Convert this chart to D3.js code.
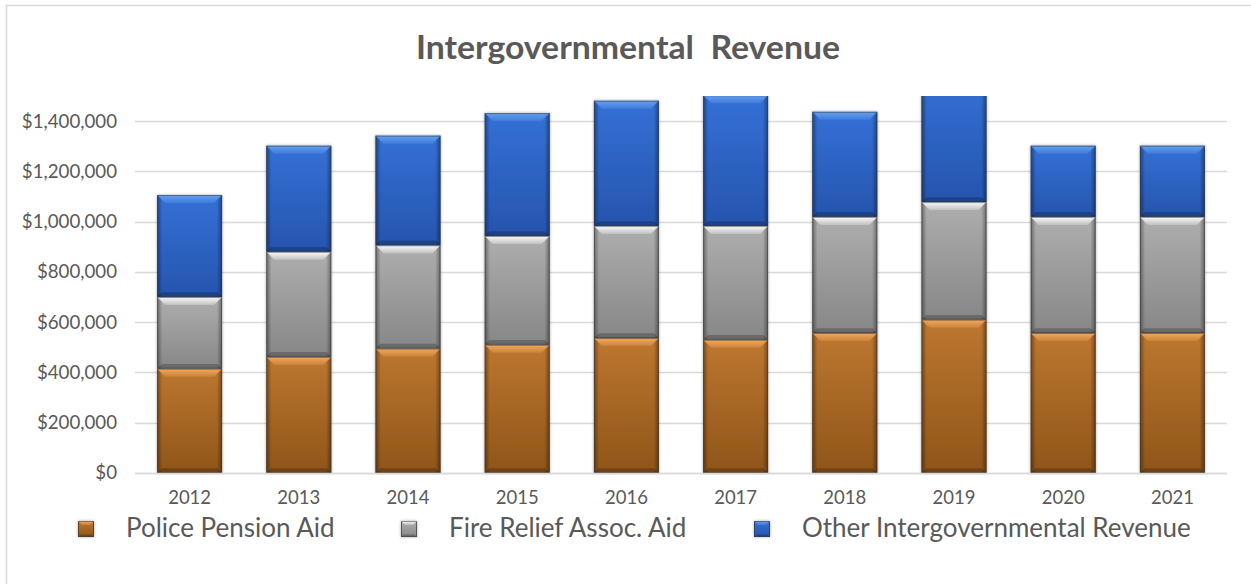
<!DOCTYPE html>
<html>
<head>
<meta charset="utf-8">
<script src="https://cdn.jsdelivr.net/npm/d3@7"></script>
<style>
  html, body { margin: 0; padding: 0; background: #fff; }
  svg { display: block; }
  text { font-family: Lato, "Open Sans", sans-serif; fill: #595959; }
</style>
</head>
<body>
<svg id="chart" width="1251" height="584"></svg>
<script>
// Intergovernmental revenue by year, stacked by source
const years = ["2012", "2013", "2014", "2015", "2016", "2017", "2018", "2019", "2020", "2021"];
const policePensionAid = [415000, 462000, 495000, 510000, 537000, 530000, 557000, 610000, 557000, 557000];
const fireReliefAid    = [285000, 418000, 411000, 433000, 446000, 453000, 462000, 468000, 462000, 462000];
const otherRevenue     = [406000, 422000, 436000, 489000, 498000, 520000, 418000, 510000, 283000, 283000];
const seriesNames = ["Police Pension Aid", "Fire Relief Assoc. Aid", "Other Intergovernmental Revenue"];
const yTickValues = [0, 200000, 400000, 600000, 800000, 1000000, 1200000, 1400000];
const yMax = 1500000;

const svg = d3.select("#chart");
const W = 1251, H = 584;
const plot = { left: 135, right: 1227, top: 96, bottom: 473 };

// colour sets for the bevelled bar look
const palettes = [
  { key: "orange", top: "#BD7730", bottom: "#8F5519", bevel: "#F7AC5E" },
  { key: "gray",   top: "#AEAEAE", bottom: "#878787", bevel: "#FFFFFF" },
  { key: "blue",   top: "#3470D6", bottom: "#2655AE", bevel: "#67A3F2" }
];

const defs = svg.append("defs");
palettes.forEach(p => {
  const v = defs.append("linearGradient").attr("id", "body-" + p.key)
    .attr("x1", 0).attr("y1", 0).attr("x2", 0).attr("y2", 1);
  v.append("stop").attr("offset", "0%").attr("stop-color", p.top);
  v.append("stop").attr("offset", "100%").attr("stop-color", p.bottom);
  const b = defs.append("linearGradient").attr("id", "bevel-" + p.key)
    .attr("x1", 0).attr("y1", 0).attr("x2", 0).attr("y2", 1);
  b.append("stop").attr("offset", "0%").attr("stop-color", p.bevel).attr("stop-opacity", 0.95);
  b.append("stop").attr("offset", "100%").attr("stop-color", p.bevel).attr("stop-opacity", 0.25);
});
const edge = defs.append("linearGradient").attr("id", "edge")
  .attr("x1", 0).attr("y1", 0).attr("x2", 1).attr("y2", 0);
[[0, 0.38], [0.08, 0], [0.92, 0], [1, 0.38]].forEach(([o, a]) =>
  edge.append("stop").attr("offset", o).attr("stop-color", "#000").attr("stop-opacity", a));

const shadow = defs.append("filter").attr("id", "shadow")
  .attr("x", "-20%").attr("y", "-20%").attr("width", "140%").attr("height", "140%");
shadow.append("feGaussianBlur").attr("in", "SourceAlpha").attr("stdDeviation", 1.6).attr("result", "blur");
shadow.append("feComponentTransfer").attr("in", "blur").attr("result", "soft")
  .append("feFuncA").attr("type", "linear").attr("slope", 0.35);
const merge = shadow.append("feMerge");
merge.append("feMergeNode").attr("in", "soft");
merge.append("feMergeNode").attr("in", "SourceGraphic");

defs.append("clipPath").attr("id", "plot-clip")
  .append("rect").attr("x", plot.left - 10).attr("y", plot.top)
  .attr("width", plot.right - plot.left + 20).attr("height", plot.bottom - plot.top + 2);

// chart frame
svg.append("rect").attr("x", 6.5).attr("y", 5.5).attr("width", W).attr("height", H)
  .attr("fill", "none").attr("stroke", "#d9d9d9").attr("stroke-width", 1.5);

// title
svg.append("text").attr("x", 628).attr("y", 59).attr("text-anchor", "middle")
  .attr("font-size", 32).attr("font-weight", "bold")
  .attr("textLength", 424).attr("lengthAdjust", "spacingAndGlyphs")
  .style("white-space", "pre").text("Intergovernmental  Revenue");

// scales
const x = d3.scaleBand().domain(years).range([plot.left, plot.right])
  .paddingInner(0.405).paddingOuter(0.2025);
const y = d3.scaleLinear().domain([0, yMax]).range([plot.bottom, plot.top]);

// gridlines
svg.append("g").selectAll("line").data(yTickValues).join("line")
  .attr("x1", plot.left).attr("x2", plot.right)
  .attr("y1", d => Math.round(y(d)) + 0.5).attr("y2", d => Math.round(y(d)) + 0.5)
  .attr("stroke", "#d9d9d9").attr("stroke-width", 1.3);

// y axis labels
const yAxis = d3.axisLeft(y).tickValues(yTickValues)
  .tickFormat(d => "$" + d3.format(",")(d)).tickSize(0).tickPadding(0);
const gy = svg.append("g").attr("transform", `translate(${plot.left - 18},0)`).call(yAxis);
gy.select(".domain").remove();
gy.selectAll("text").attr("font-size", 18.7).attr("fill", "#595959")
  .style("font-family", "Lato, sans-serif");

// x axis labels
const xAxis = d3.axisBottom(x).tickSize(0).tickPadding(0);
const gx = svg.append("g").attr("transform", `translate(0,${plot.bottom + 18})`).call(xAxis);
gx.select(".domain").remove();
gx.selectAll("text").attr("font-size", 18.5).attr("fill", "#595959")
  .style("font-family", "Lato, sans-serif");

// stacked data
const rows = years.map((yr, i) => ({
  year: yr, s0: policePensionAid[i], s1: fireReliefAid[i], s2: otherRevenue[i]
}));
const stack = d3.stack().keys(["s0", "s1", "s2"])(rows);

function bevelSeg(g, x0, y0, w, h, p, bev) {
  const b = Math.min(bev, h / 2);
  const s = g.append("g");
  s.append("rect").attr("x", x0).attr("y", y0).attr("width", w).attr("height", h)
    .attr("fill", `url(#body-${p.key})`);
  s.append("rect").attr("x", x0).attr("y", y0).attr("width", w).attr("height", h)
    .attr("fill", "url(#edge)");
  s.append("polygon")
    .attr("points", [[x0, y0], [x0 + w, y0], [x0 + w - b, y0 + b], [x0 + b, y0 + b]].join(" "))
    .attr("fill", `url(#bevel-${p.key})`);
  s.append("polygon")
    .attr("points", [[x0, y0 + h], [x0 + w, y0 + h], [x0 + w - b * 0.6, y0 + h - b * 0.6], [x0 + b * 0.6, y0 + h - b * 0.6]].join(" "))
    .attr("fill", "#000").attr("fill-opacity", 0.22);
  s.append("rect").attr("x", x0 + 0.5).attr("y", y0 + 0.5).attr("width", w - 1).attr("height", h - 1)
    .attr("fill", "none").attr("stroke", "#3a3a3a").attr("stroke-opacity", 0.55).attr("stroke-width", 1);
  return s;
}

const barsG = svg.append("g").attr("clip-path", "url(#plot-clip)");
rows.forEach((r, i) => {
  const col = barsG.append("g").attr("filter", "url(#shadow)");
  stack.forEach((layer, k) => {
    const d = layer[i];
    const top = y(d[1]), bot = y(d[0]);
    bevelSeg(col, x(r.year), top, x.bandwidth(), bot - top, palettes[k], 8);
  });
});

// baseline
svg.append("line").attr("x1", plot.left).attr("x2", plot.right)
  .attr("y1", plot.bottom + 0.5).attr("y2", plot.bottom + 0.5)
  .attr("stroke", "#d9d9d9").attr("stroke-width", 1.3);

// legend
const legendX = [78, 401, 754];
const legend = svg.append("g");
seriesNames.forEach((name, k) => {
  const lg = legend.append("g").attr("filter", "url(#shadow)");
  bevelSeg(lg, legendX[k], 521, 16, 16, palettes[k], 4);
  legend.append("text").attr("x", legendX[k] + 48).attr("y", 537)
    .attr("font-size", 26).text(name);
});
</script>
</body>
</html>
